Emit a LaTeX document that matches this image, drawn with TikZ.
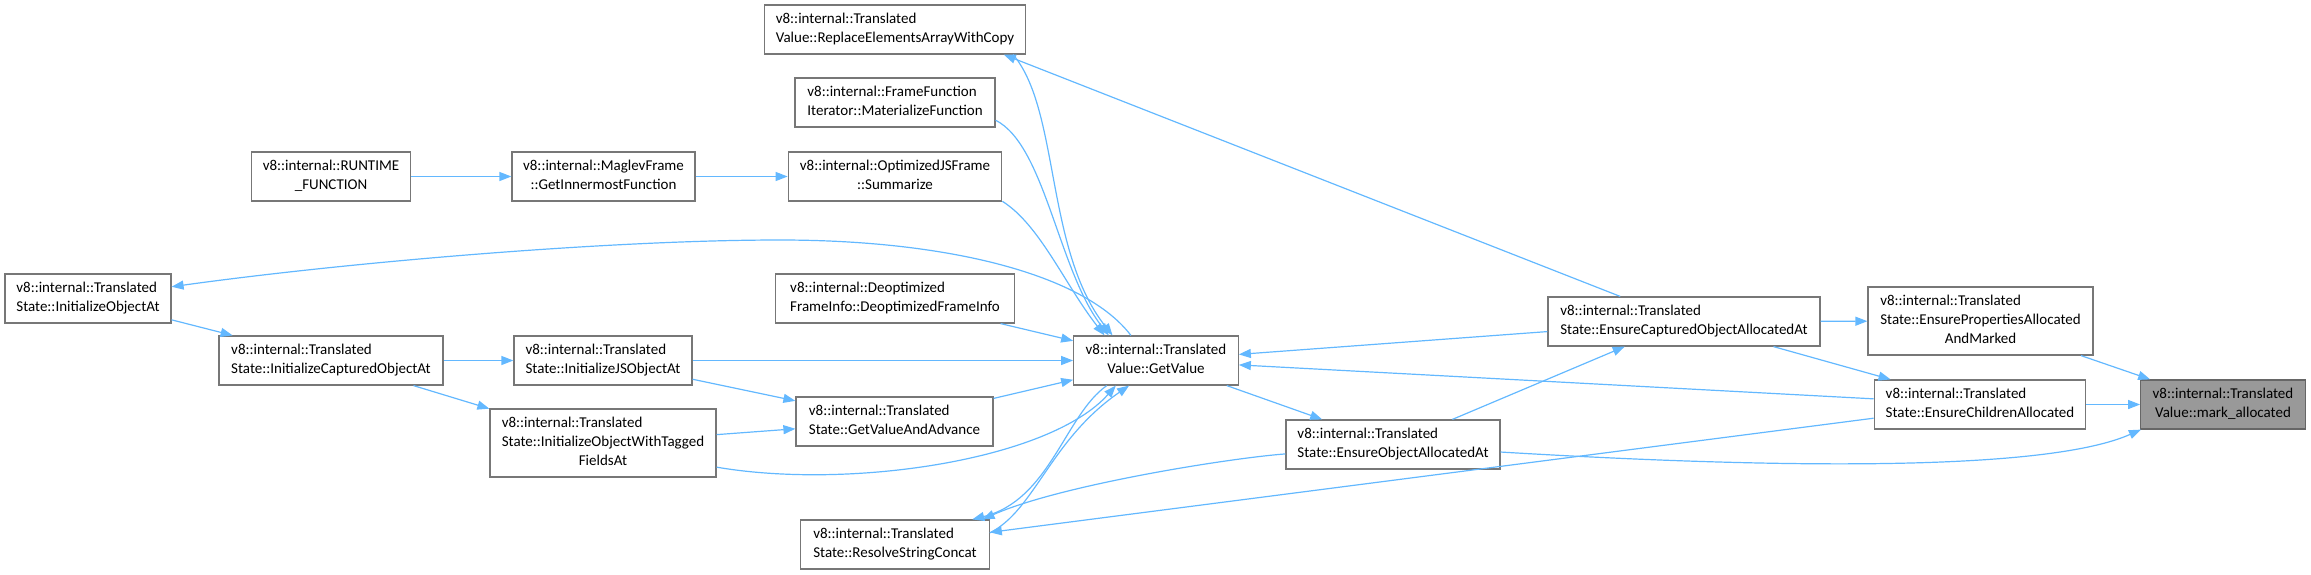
\documentclass[tikz,border=0pt]{standalone}
\usepackage{fontspec}
\setmainfont{Carlito}
\usetikzlibrary{arrows.meta}
\definecolor{edgec}{HTML}{63B8FF}
\definecolor{boxc}{HTML}{777777}
\definecolor{rootfill}{HTML}{999999}
\newcommand\lbl[2]{\begin{tabular}{@{}l@{}}#1\\\multicolumn{1}{@{}c@{}}{#2}\end{tabular}}
\begin{document}
\begin{tikzpicture}[x=1pt,y=-1pt,
  nbox/.style={draw=boxc, line width=1.2pt, fill=white, inner sep=0pt, minimum height=49pt,
    font=\fontsize{15}{19}\selectfont, text=black},
  tallbox/.style={minimum height=68pt},
  conn/.style={draw=edgec, line width=1.2pt, -{Triangle[length=12pt,width=9pt]}},
]
\useasboundingbox (0,0) rectangle (2311,574);

% nodes
\node[nbox, minimum width=261.5pt] (replace) at (895,29.5) {\lbl{v8::internal::Translated}{Value::ReplaceElementsArrayWithCopy}};
\node[nbox, minimum width=200pt] (ffim) at (895,102.5) {\lbl{v8::internal::FrameFunction}{Iterator::MaterializeFunction}};
\node[nbox, minimum width=213.5pt] (summ) at (895,176.5) {\lbl{v8::internal::OptimizedJSFrame}{::Summarize}};
\node[nbox, minimum width=159.5pt] (runtime) at (331,176.5) {\lbl{v8::internal::RUNTIME}{\_FUNCTION}};
\node[nbox, minimum width=183pt] (maglev) at (603.5,176.5) {\lbl{v8::internal::MaglevFrame}{::GetInnermostFunction}};
\node[nbox, minimum width=238.5pt] (deopt) at (895,298.5) {\lbl{v8::internal::Deoptimized}{FrameInfo::DeoptimizedFrameInfo}};
\node[nbox, minimum width=166pt] (initobj) at (88,298.5) {\lbl{v8::internal::Translated}{State::InitializeObjectAt}};
\node[nbox, minimum width=224pt] (initcap) at (331,360.5) {\lbl{v8::internal::Translated}{State::InitializeCapturedObjectAt}};
\node[nbox, minimum width=178pt] (initjs) at (603,360.5) {\lbl{v8::internal::Translated}{State::InitializeJSObjectAt}};
\node[nbox, tallbox, minimum width=226pt] (inittag) at (603,443) {\lbl{v8::internal::Translated\\State::InitializeObjectWithTagged}{FieldsAt}};
\node[nbox, minimum width=197pt] (gva) at (894.5,421.5) {\lbl{v8::internal::Translated}{State::GetValueAndAdvance}};
\node[nbox, minimum width=164.5pt] (getvalue) at (1156,360.5) {\lbl{v8::internal::Translated}{Value::GetValue}};
\node[nbox, minimum width=188.5pt] (rsc) at (895,544.5) {\lbl{v8::internal::Translated}{State::ResolveStringConcat}};
\node[nbox, minimum width=214pt] (eoa) at (1393,444.5) {\lbl{v8::internal::Translated}{State::EnsureObjectAllocatedAt}};
\node[nbox, minimum width=272pt] (ecoa) at (1684,321.5) {\lbl{v8::internal::Translated}{State::EnsureCapturedObjectAllocatedAt}};
\node[nbox, tallbox, minimum width=225pt] (epam) at (1980.5,321) {\lbl{v8::internal::Translated\\State::EnsurePropertiesAllocated}{AndMarked}};
\node[nbox, minimum width=211.5pt] (eca) at (1980,404.5) {\lbl{v8::internal::Translated}{State::EnsureChildrenAllocated}};
\node[nbox, minimum width=164.5pt, fill=rootfill, draw=black!60] (mark) at (2223,404.5) {\lbl{v8::internal::Translated}{Value::mark\_allocated}};

% straight connectors
\draw[conn] (runtime) -- (maglev);
\draw[conn] (maglev) -- (summ);
\draw[conn] (initobj) -- (initcap);
\draw[conn] (initcap) -- (initjs);
\draw[conn] (initcap) -- (inittag);
\draw[conn] (initjs) -- (gva);
\draw[conn] (inittag) -- (gva);
\draw[conn] (initjs) -- (getvalue);
\draw[conn] (gva) -- (getvalue);
\draw[conn] (deopt) -- (getvalue);
\draw[conn] (getvalue) -- (eoa);
\draw[conn] (eoa) -- (ecoa);
\draw[conn] (ecoa) -- (getvalue);
\draw[conn] (eca) -- (getvalue);
\draw[conn] (ecoa) -- (epam);
\draw[conn] (ecoa) -- (eca);
\draw[conn] (epam) -- (mark);
\draw[conn] (eca) -- (mark);
\draw[conn] (eca) -- (rsc);
\draw[conn] (ecoa) -- (replace.-13.1);

% curved connectors
\draw[conn] (getvalue.135.6) .. controls (1085,275) and (950,240) .. (780,240)
   .. controls (610,240) and (350,262) .. (initobj.8);
\draw[conn] (replace.-12) .. controls (1060,110) and (1045,250) .. (getvalue.150);
\draw[conn] (ffim.-10.5) .. controls (1045,145) and (1058,270) .. (getvalue.152);
\draw[conn] (summ.-13.8) .. controls (1040,225) and (1065,285) .. (getvalue.154);
\draw[conn] (inittag.-12) .. controls (850,490) and (1050,460) .. (getvalue.-148);
\draw[conn] (rsc.7) .. controls (1035,510) and (1050,440) .. (getvalue.-137);
\draw[conn] (getvalue.-153.4) .. controls (1065,415) and (1050,500) .. (rsc.18);
\draw[conn] (eoa.185) .. controls (1230,458) and (1060,485) .. (rsc.16);
\draw[conn] (eoa.-4.5) .. controls (1800,470) and (2050,470) .. (mark.-163);
\end{tikzpicture}
\end{document}
